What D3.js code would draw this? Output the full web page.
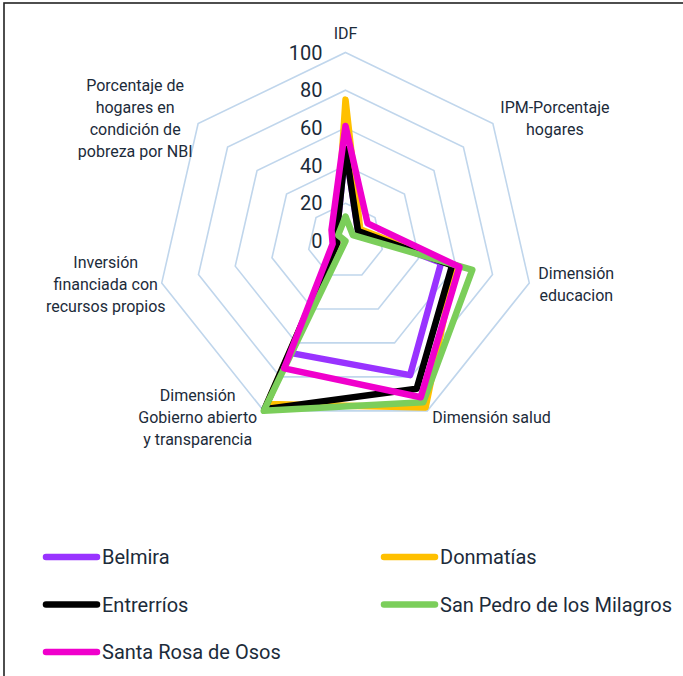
<!DOCTYPE html>
<html>
<head>
<meta charset="utf-8">
<script src="https://cdn.jsdelivr.net/npm/d3@7"></script>
<style>
  html, body { margin: 0; padding: 0; background: #fff; }
  svg { display: block; }
  text { font-family: Roboto, "Noto Sans", sans-serif; fill: #1C2B3A; }
</style>
</head>
<body>
<svg id="chart" width="683" height="676"></svg>
<script>
// ---- data ----
const categories = [
  "IDF",
  "IPM-Porcentaje\nhogares",
  "Dimensión\neducacion",
  "Dimensión salud",
  "Dimensión\nGobierno abierto\ny transparencia",
  "Inversión\nfinanciada con\nrecursos propios",
  "Porcentaje de\nhogares en\ncondición de\npobreza por NBI"
];
const seriesNames = ["Belmira", "Donmatías", "Entrerríos", "San Pedro de los Milagros", "Santa Rosa de Osos"];
const belmira    = [49, 8.5, 52, 79, 66, 4.5, 6];
const donmatias  = [75, 10, 59.5, 98, 96, 4.5, 6];
const entrerrios = [49, 8.5, 58, 87, 99, 4.5, 6];
const sanPedro   = [13, 5, 69, 95, 100, 0, 5];
const santaRosa  = [61, 15, 62, 92, 75, 7, 9.5];
const tickValues = [0, 20, 40, 60, 80, 100];

// ---- styles / layout ----
const colors = ["#9933FF", "#FFC000", "#000000", "#7BCE5A", "#F000CC"];
const cx = 345.5, cy = 241, R = 188.5;
// label block offsets relative to the outer vertex, with text anchor
const labelLayout = [
  { dx: 0, dy: -19, anchor: "middle" },
  { dx: 62, dy: -5, anchor: "middle" },
  { dx: 47, dy: 2, anchor: "middle" },
  { dx: 5, dy: 7, anchor: "start" },
  { dx: -66, dy: 7, anchor: "middle" },
  { dx: -56, dy: 2, anchor: "middle" },
  { dx: -63, dy: -4.5, anchor: "middle" }
];

const svg = d3.select("#chart");

// frame
svg.append("rect").attr("x", 4).attr("y", 3).attr("width", 760).attr("height", 760)
  .attr("fill", "none").attr("stroke", "#222").attr("stroke-width", 1.6);

const g = svg.append("g").attr("transform", `translate(${cx},${cy})`);
const r = d3.scaleLinear().domain([0, 100]).range([0, R]);
const angle = d3.scaleLinear().domain([0, categories.length]).range([0, 2 * Math.PI]);
const idx = d3.range(categories.length);

// grid rings
const ringLine = d3.lineRadial().angle(i => angle(i)).curve(d3.curveLinearClosed);
g.selectAll("path.ring").data(tickValues.filter(t => t > 0)).join("path")
  .attr("class", "ring")
  .attr("d", t => ringLine.radius(() => r(t))(idx))
  .attr("fill", "none").attr("stroke", "#C0D6EC").attr("stroke-width", 1.6);

// tick labels
g.selectAll("text.tick").data(tickValues).join("text")
  .attr("class", "tick")
  .attr("x", -23).attr("y", t => -r(t))
  .attr("text-anchor", "end").attr("dominant-baseline", "central")
  .attr("font-size", 20)
  .text(t => t);

// category labels
const pt = (i, v) => {
  const a = angle(i) - Math.PI / 2;
  return [Math.cos(a) * r(v), Math.sin(a) * r(v)];
};
const lineH = 22;
categories.forEach((c, i) => {
  const lines = c.split("\n");
  const [vx, vy] = pt(i, 100);
  const L = labelLayout[i];
  const x0 = vx + L.dx, y0 = vy + L.dy - (lines.length - 1) * lineH / 2;
  const t = g.append("text").attr("font-size", 16).attr("text-anchor", L.anchor);
  lines.forEach((l, k) => {
    t.append("tspan").attr("x", x0).attr("y", y0 + k * lineH)
      .attr("dominant-baseline", "central").text(l);
  });
});

// series
const allSeries = [belmira, donmatias, entrerrios, sanPedro, santaRosa];
const seriesLine = d3.lineRadial()
  .angle((d, i) => angle(i))
  .radius(d => r(d))
  .curve(d3.curveLinearClosed);
g.selectAll("path.series").data(allSeries).join("path")
  .attr("class", "series")
  .attr("d", d => seriesLine(d))
  .attr("fill", "none")
  .attr("stroke", (d, i) => colors[i])
  .attr("stroke-width", 6.5)
  .attr("stroke-linejoin", "round")
  .attr("stroke-linecap", "round");

// legend
const legend = svg.append("g");
const legendPos = (i) => ({ x: i % 2 === 0 ? 46 : 384, y: 557 + Math.floor(i / 2) * 47.5 });
seriesNames.forEach((n, i) => {
  const p = legendPos(i);
  legend.append("line").attr("x1", p.x).attr("x2", p.x + 51).attr("y1", p.y).attr("y2", p.y)
    .attr("stroke", colors[i]).attr("stroke-width", 6.5).attr("stroke-linecap", "round");
  legend.append("text").attr("x", p.x + 56).attr("y", p.y)
    .attr("dominant-baseline", "central").attr("font-size", 20).text(n);
});
</script>
</body>
</html>
